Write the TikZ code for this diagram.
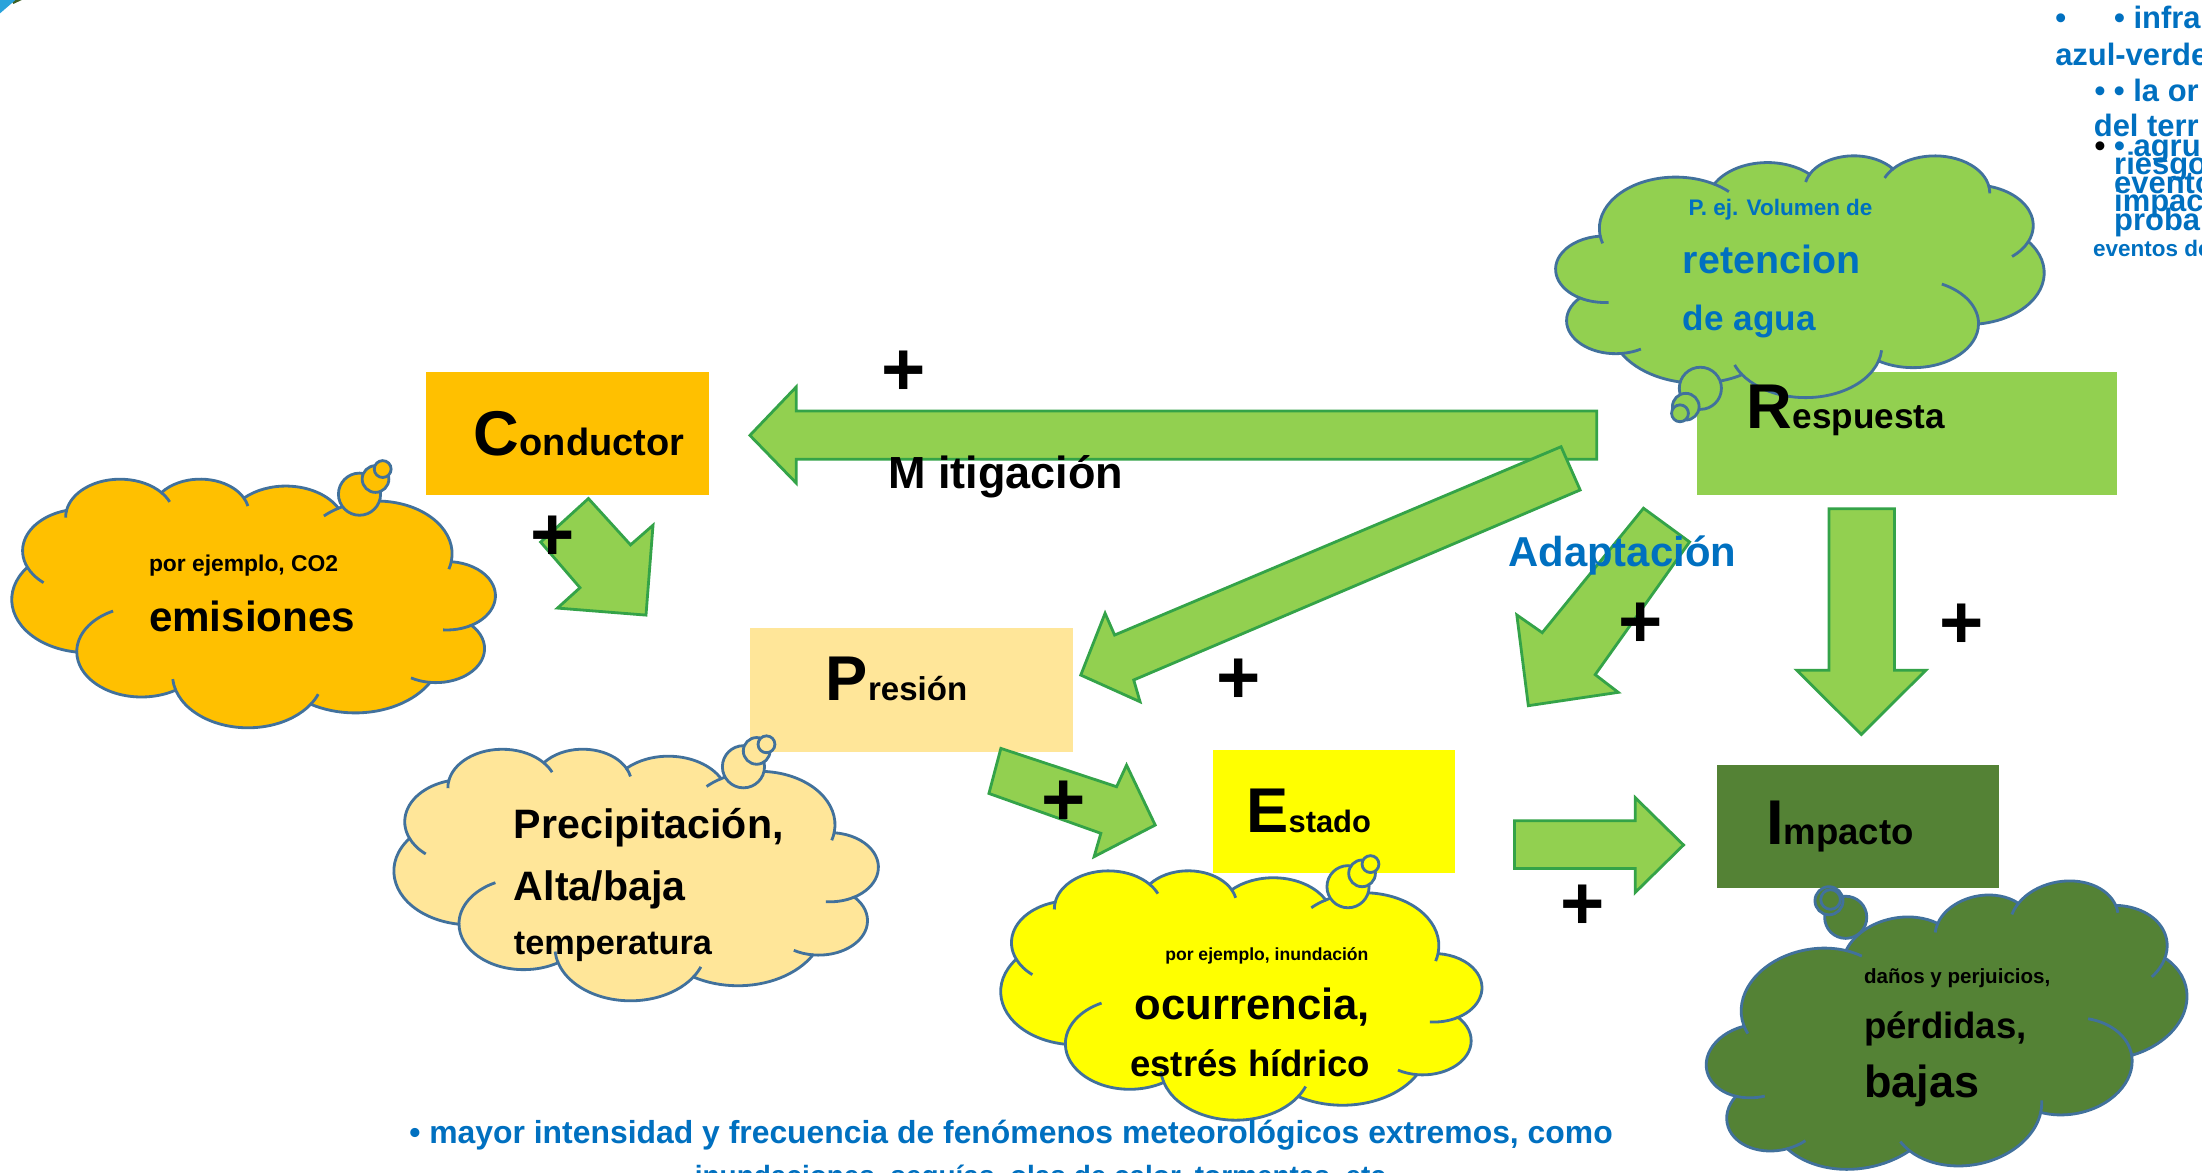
\documentclass[tikz,border=0pt]{standalone}
\usepackage{fontspec}
\setmainfont{Liberation Sans}
\usetikzlibrary{fit}

\definecolor{blueText}{RGB}{0,112,192}
\definecolor{cloudLine}{RGB}{65,113,156}
\definecolor{arrowFill}{RGB}{146,208,80}
\definecolor{arrowLine}{RGB}{52,163,72}
\definecolor{driverCol}{RGB}{255,192,0}
\definecolor{pressureCol}{RGB}{255,230,153}
\definecolor{stateCol}{RGB}{255,255,0}
\definecolor{responseCol}{RGB}{146,208,80}
\definecolor{impactCol}{RGB}{84,130,53}
\definecolor{cornerBlue}{RGB}{41,163,219}
\definecolor{cornerGreen}{RGB}{62,96,36}

\newcommand\fsz[1]{\fontsize{#1pt}{#1pt}\selectfont}

\newcommand\cloudshape[5]{%
  \begin{scope}[shift={(#1,#2)}, xscale=#3/100, yscale=#4/100]
    \filldraw[cloudline, fill=#5] (9.028,33.264)
      arc[start angle=-187.75, end angle=-59.64, x radius=15.632, y radius=21.273]
      arc[start angle=-152.02, end angle=-45.45, x radius=12.345, y radius=16.822]
      arc[start angle=-153.48, end angle=-37.33, x radius=10.104, y radius=13.762]
      arc[start angle=-139.72, end angle=-10.22, x radius=11.243, y radius=15.266]
      arc[start angle=-74.77, end angle=23.21, x radius=12.345, y radius=16.836]
      arc[start angle=-37.52, end angle=81.86, x radius=15.683, y radius=21.343]
      arc[start angle=0.46, end angle=121.98, x radius=13.391, y radius=18.211]
      arc[start angle=16.84, end angle=146.23, x radius=15.630, y radius=21.331]
      arc[start angle=58.98, end angle=150.2, x radius=17.870, y radius=24.405]
      arc[start angle=83.31, end angle=223.14, x radius=10.093, y radius=13.699]
      arc[start angle=120.36, end angle=264.11, x radius=10.058, y radius=13.762]
      -- cycle;
    \draw[cloudline] (4.896,59.125) arc[start angle=120.36, end angle=85.54, x radius=10.058, y radius=13.762];
    \draw[cloudline] (13.435,82.1) arc[start angle=83.31, end angle=59.4, x radius=10.093, y radius=13.699];
    \draw[cloudline] (38.148,90.887) arc[start angle=146.23, end angle=158.47, x radius=15.63, y radius=21.331];
    \draw[cloudline] (66.1,85.208) arc[start angle=16.84, end angle=4.73, x radius=15.63, y radius=21.331];
    \draw[cloudline] (86.583,69.907) arc[start angle=0.46, end angle=-64.02, x radius=13.391, y radius=18.211];
    \draw[cloudline] (96.803,35.782) arc[start angle=23.21, end angle=49.64, x radius=12.345, y radius=16.836];
    \draw[cloudline] (88.699,12.903) arc[start angle=-10.22, end angle=0.82, x radius=11.243, y radius=15.266];
    \draw[cloudline] (69.058,5.741) arc[start angle=-139.72, end angle=-156.3, x radius=11.243, y radius=15.266];
    \draw[cloudline] (51.981,7.94) arc[start angle=-153.48, end angle=-167.72, x radius=10.104, y radius=13.762];
    \draw[cloudline] (32.419,12.037) arc[start angle=-59.64, end angle=-45.76, x radius=15.632, y radius=21.273];
    \draw[cloudline] (9.028,33.264) arc[start angle=-187.75, end angle=-196.81, x radius=15.632, y radius=21.273];
  \end{scope}}

\begin{document}
\begin{tikzpicture}[x=0.14043mm, y=-0.14043mm,
  boxst/.style={inner sep=0pt, draw=none},
  blockarrow/.style={fill=arrowFill, draw=arrowLine, line width=0.8pt, line join=miter},
  cloudline/.style={draw=cloudLine, line width=0.8pt},
  lbl/.style={anchor=base west, inner sep=0pt, font=\bfseries},
  lbr/.style={anchor=base east, inner sep=0pt, font=\bfseries},
  plus/.style={inner sep=0pt, font=\bfseries\fsz{21.6}},
  topnote/.style={anchor=base west, inner sep=0pt, font=\bfseries\fsz{8.8}, text=blueText}]
  \useasboundingbox (0,0) rectangle (1568,835);
  \clip (0,0) rectangle (1568,835);
  \fill[white] (0,0) rectangle (1568,835);

  \fill[cornerGreen] (8,0) -- (15.5,0) -- (9.5,2.8) -- cycle;
  \fill[cornerBlue] (0,0) -- (11,0) -- (0,9.5) -- cycle;

  \node[boxst, fill=driverCol, fit={(303,264.7) (505.1,352.5)}] (conductor) {};
  \node[boxst, fill=responseCol, fit={(1208.4,264.7) (1507.4,352.5)}] (respuesta) {};
  \node[boxst, fill=pressureCol, fit={(533.9,447.4) (764.1,535.3)}] (presion) {};
  \node[boxst, fill=stateCol, fit={(864,534.1) (1036.4,621.9)}] (estado) {};
  \node[boxst, fill=impactCol, fit={(1222.8,545) (1423.7,632.3)}] (impacto) {};

  \filldraw[blockarrow] (1137,292.6) -- (567,292.6) -- (567,275.5) -- (534,310) --
    (567,344) -- (567,327) -- (1137,327) -- cycle;
  \filldraw[blockarrow] (1111.6,318.1) -- (1125.2,348.9) -- (807.3,484.2) -- (811.8,499.7) --
    (769.6,480.7) -- (786.9,436.7) -- (793.7,452.2) -- cycle;
  \filldraw[blockarrow] (1170.3,361.9) -- (1203.1,385.9) -- (1135.9,480.4) -- (1152.3,493) --
    (1088.3,502.5) -- (1080.1,437.9) -- (1098.2,450.5) -- cycle;
  \filldraw[blockarrow] (1302.4,362.3) -- (1349,362.3) -- (1349,477.3) -- (1371.3,477.3) --
    (1325.4,523) -- (1279.5,477.3) -- (1302.4,477.3) -- cycle;
  \filldraw[blockarrow] (1078.5,584.4) -- (1164.4,584.4) -- (1164.4,568) -- (1198.8,601.7) --
    (1164.4,635.5) -- (1164.4,618.5) -- (1078.5,618.5) -- cycle;
  \filldraw[blockarrow] (419,355) -- (449,388) -- (465,374) -- (460,438) --
    (397,433) -- (413,418.5) -- (385,386) -- cycle;
  \filldraw[blockarrow] (712.7,532.9) -- (795.1,560.2) -- (802.2,544.8) -- (822.6,587.5) --
    (779.1,610) -- (783.9,593.4) -- (704.2,565) -- cycle;

  \cloudshape{352.5}{340.6}{-344}{177}{driverCol}
  \cloudshape{625.2}{532.9}{-344.6}{179.1}{pressureCol}
  \cloudshape{1055}{619.5}{-342.3}{177.5}{stateCol}
  \cloudshape{1108}{110.4}{347.5}{172.1}{responseCol}
  \begin{scope}[rotate around={10:(1386.8,736.6)}]
    \cloudshape{1213.8}{642.6}{346}{188}{impactCol}
  \end{scope}

  \filldraw[cloudline, fill=driverCol] (256,351.9) circle[radius=15];
  \filldraw[cloudline, fill=driverCol] (267.4,341.1) circle[radius=9.5];
  \filldraw[cloudline, fill=driverCol] (272.5,334) circle[radius=6];
  \filldraw[cloudline, fill=pressureCol] (529.4,546) circle[radius=15];
  \filldraw[cloudline, fill=pressureCol] (538.8,534.7) circle[radius=9.5];
  \filldraw[cloudline, fill=pressureCol] (545.8,530) circle[radius=6];
  \filldraw[cloudline, fill=stateCol] (959.9,631.4) circle[radius=15];
  \filldraw[cloudline, fill=stateCol] (969.9,621.9) circle[radius=9.5];
  \filldraw[cloudline, fill=stateCol] (975.9,615.3) circle[radius=6];
  \filldraw[cloudline, fill=responseCol] (1210.8,276.5) circle[radius=15];
  \filldraw[cloudline, fill=responseCol] (1200.4,289.6) circle[radius=9.5];
  \filldraw[cloudline, fill=responseCol] (1196.3,294.3) circle[radius=6];
  \filldraw[cloudline, fill=impactCol] (1314.3,653.2) circle[radius=15];
  \filldraw[cloudline, fill=impactCol] (1302.4,641.4) circle[radius=10];
  \filldraw[cloudline, fill=impactCol] (1303.5,640.5) circle[radius=7];

  \node[lbl] (conductorLbl) at (337,324) {\fsz{18}C\fsz{10.8}onductor};
  \node[lbl] (respuestaLbl) at (1243.4,305) {\fsz{18}R\fsz{10}espuesta};
  \node[lbl] (presionLbl) at (587.6,499) {\fsz{18}P\fsz{9.4}resión};
  \node[lbl] (estadoLbl) at (887,593) {\fsz{18}E\fsz{8.8}stado};
  \node[lbl] (impactoLbl) at (1257.2,601.7) {\fsz{18}I\fsz{10.4}mpacto};

  \node[lbl] (mitigacion) at (632,348) {\fsz{12.8}M itigación};
  \node[lbl, text=blueText] (adaptacion) at (1073.6,403.3) {\fsz{11.9}Adaptación};

  \node[lbl] (emisEj) at (105.6,407.1) {\fsz{6.5}por ejemplo, CO2};
  \node[lbl] (emis) at (105.6,449.8) {\fsz{12}emisiones};
  \node[lbl] (precipA) at (365.5,597) {\fsz{11.7}Precipitación,};
  \node[lbl] (precipB) at (365.5,640.9) {\fsz{11.7}Alta/baja};
  \node[lbl] (precipC) at (365.5,680) {\fsz{9.75}temperatura};
  \node[lbr] (estadoEj) at (974.9,683.6) {\fsz{5}por ejemplo, inundación};
  \node[lbr] (estadoOc) at (976,726.3) {\fsz{12.4}ocurrencia,};
  \node[lbr] (estadoEs) at (976,766.7) {\fsz{10.4}estrés hídrico};
  \node[lbl, text=blueText] (respEj) at (1202,153.1) {\fsz{6.4}P. ej. Volumen de};
  \node[lbl, text=blueText] (respRet) at (1197.9,194.6) {\fsz{11.2}retencion};
  \node[lbl, text=blueText] (respAgua) at (1197.9,235) {\fsz{10}de agua};
  \node[lbl] (impDan) at (1326.9,700.2) {\fsz{5.85}daños y perjuicios,};
  \node[lbl] (impPer) at (1326.9,739.4) {\fsz{10.4}pérdidas,};
  \node[lbl] (impBaj) at (1326.9,781.4) {\fsz{12.8}bajas};

  \node[lbl, text=blueText] (efectosA) at (291,814.2) {\fsz{9.07}• mayor intensidad y frecuencia de fenómenos meteorológicos extremos, como};
  \node[lbl, text=blueText] (efectosB) at (494.3,844.2) {\fsz{7.95}inundaciones, sequías, olas de calor, tormentas, etc.};

  \node[topnote] (noteA) at (1463,20.2) {•};
  \node[topnote] (noteB) at (1505,20.2) {• infra};
  \node[topnote] (noteC) at (1463,46.3) {azul-verde};
  \node[topnote] (noteD) at (1491,72.4) {• • la or};
  \node[topnote] (noteE) at (1490.5,97.3) {del terr};
  \node[topnote, text=black] (noteF) at (1491,111.6) {•};
  \node[topnote] (noteG) at (1505,111.6) {• agru};
  \node[topnote] (noteH) at (1505,124.6) {riesgo};
  \node[topnote] (noteI) at (1505,137.7) {evento};
  \node[topnote] (noteJ) at (1505,150.7) {impac};
  \node[topnote] (noteK) at (1505,163.8) {proba};
  \node[topnote, font=\bfseries\fsz{6.4}] (noteL) at (1490,182.8) {eventos de};

  \node[plus] (plusMit) at (643.7,265.8) {+};
  \node[plus] (plusCond) at (393.4,383) {+};
  \node[plus] (plusPres) at (882.2,485.4) {+};
  \node[plus] (plusAdap) at (1168.3,445) {+};
  \node[plus] (plusImp) at (1396.5,445.8) {+};
  \node[plus] (plusEst) at (757.7,572) {+};
  \node[plus] (plusRight) at (1126.7,645.9) {+};
\end{tikzpicture}
\end{document}
